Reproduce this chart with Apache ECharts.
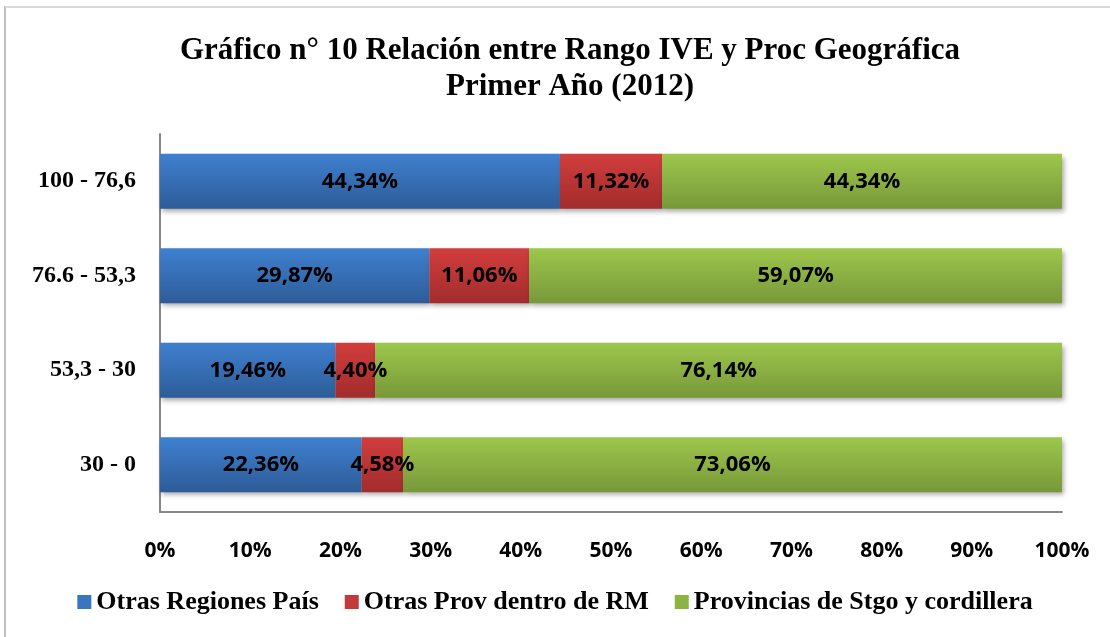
<!DOCTYPE html>
<html>
<head>
<meta charset="utf-8">
<script src="https://cdn.jsdelivr.net/npm/echarts@6/dist/echarts.min.js"></script>
<style>
  html, body { margin: 0; padding: 0; background: #fff; }
  #frame { position: absolute; left: 4px; top: 6px; width: 1106px; height: 631px;
           border-top: 2px solid #d9d9d9; border-left: 2px solid #bfbfbf; }
  #chart { position: absolute; left: 0; top: 0; width: 1110px; height: 637px; }
</style>
</head>
<body>
<div id="frame"></div>
<div id="chart"></div>
<script>
// categories from bottom to top
const categories = ['30 - 0', '53,3 - 30', '76.6 - 53,3', '100 - 76,6'];
const seriesNames = ['Otras Regiones País', 'Otras Prov dentro de RM', 'Provincias de Stgo y cordillera'];
const otrasRegiones = [22.36, 19.46, 29.87, 44.34];
const otrasProv = [4.58, 4.40, 11.06, 11.32];
const provinciasStgo = [73.06, 76.14, 59.07, 44.34];

const grad = (top, bottom) => new echarts.graphic.LinearGradient(0, 0, 0, 1, [
  { offset: 0, color: top },
  { offset: 1, color: bottom }
]);

const colors = [
  grad('#3f80cf', '#2d5c98'),
  grad('#d23d3d', '#a22c2c'),
  grad('#9dc74c', '#789839')
];
const legendColors = ['#3a75bf', '#c23a3a', '#8db443'];

const chart = echarts.init(document.getElementById('chart'));

const makeSeries = (name, data, i) => ({
  name: name,
  type: 'bar',
  stack: 'total',
  barWidth: 55,
  data: data,
  itemStyle: {
    color: colors[i],
    shadowColor: 'rgba(0,0,0,0.35)',
    shadowBlur: 5,
    shadowOffsetX: 2,
    shadowOffsetY: 3
  },
  label: {
    show: true,
    position: 'inside',
    color: '#000',
    fontFamily: 'Open Sans',
    fontWeight: 'bold',
    fontSize: 22,
    formatter: p => p.value.toFixed(2).replace('.', ',') + '%'
  }
});

chart.setOption({
  animation: false,
  title: {
    text: 'Gráfico n° 10 Relación entre Rango IVE y Proc Geográfica\nPrimer Año (2012)',
    left: 565,
    textAlign: 'center',
    top: 28,
    textStyle: {
      fontFamily: 'Liberation Serif',
      fontWeight: 'bold',
      fontSize: 31,
      lineHeight: 36,
      color: '#000'
    }
  },
  legend: {
    bottom: 17,
    left: 'center',
    itemWidth: 14,
    itemHeight: 14,
    itemGap: 26,
    icon: 'rect',
    data: seriesNames.map((n, i) => ({ name: n, itemStyle: { color: legendColors[i] } })),
    textStyle: {
      fontFamily: 'Liberation Serif',
      fontWeight: 'bold',
      fontSize: 26,
      color: '#000'
    }
  },
  grid: {
    left: 160,
    right: 48,
    top: 134,
    bottom: 125,
    containLabel: false
  },
  xAxis: {
    type: 'value',
    min: 0,
    max: 100,
    interval: 10,
    axisLine: { show: true, lineStyle: { color: '#888', width: 2 } },
    axisTick: { show: false },
    splitLine: { show: false },
    axisLabel: {
      margin: 29,
      color: '#000',
      fontFamily: 'Open Sans',
      fontWeight: 'bold',
      fontSize: 21,
      formatter: '{value}%'
    }
  },
  yAxis: {
    type: 'category',
    data: categories,
    axisLine: { show: true, lineStyle: { color: '#888', width: 2 } },
    axisTick: { show: false },
    axisLabel: {
      margin: 24,
      color: '#000',
      fontFamily: 'Liberation Serif',
      fontWeight: 'bold',
      fontSize: 24
    }
  },
  series: [
    makeSeries(seriesNames[0], otrasRegiones, 0),
    makeSeries(seriesNames[1], otrasProv, 1),
    makeSeries(seriesNames[2], provinciasStgo, 2)
  ]
});
</script>
</body>
</html>
